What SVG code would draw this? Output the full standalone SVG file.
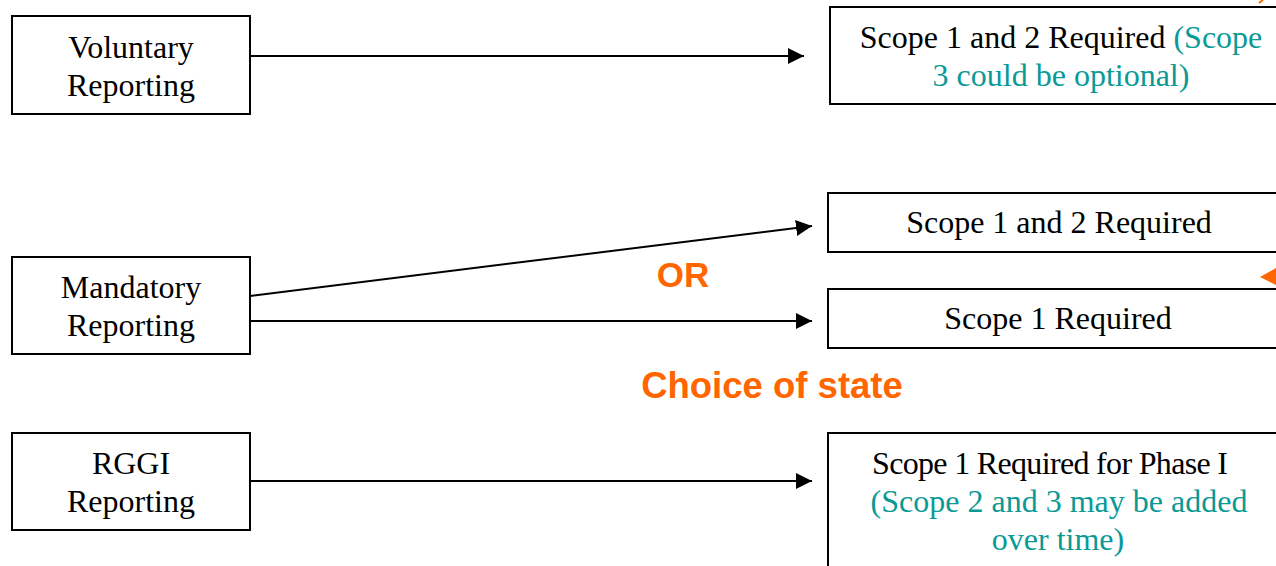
<svg xmlns="http://www.w3.org/2000/svg" width="1276" height="566" viewBox="0 0 1276 566">
<style>
.box{fill:#fff;stroke:#000;stroke-width:2}
.t{font-family:"Liberation Serif","Times New Roman",serif;font-size:32px;fill:#000;text-anchor:middle}
.teal{fill:#0a9a96}
.or{font-family:"Liberation Sans",Arial,sans-serif;font-weight:bold;fill:#ff6600;text-anchor:middle}
.c{stroke:#000;stroke-width:2;fill:none;marker-end:url(#ah)}
</style>
<defs>
<marker id="ah" viewBox="0 0 16 16" refX="16" refY="8" markerWidth="16" markerHeight="16" markerUnits="userSpaceOnUse" orient="auto">
<path d="M0,0 L16,8 L0,16 Z" fill="#000"/>
</marker>
</defs>
<rect width="1276" height="566" fill="#fff"/>
<g id="connectors">
<line class="c" x1="250" y1="56" x2="804" y2="56"/>
<line class="c" x1="250" y1="296" x2="812" y2="226"/>
<line class="c" x1="250" y1="321" x2="812" y2="321"/>
<line class="c" x1="250" y1="481" x2="812" y2="481"/>
</g>
<g id="voluntary">
<rect class="box" x="12" y="16" width="238" height="98"/>
<text class="t" x="131" y="58">Voluntary</text>
<text class="t" x="131" y="96">Reporting</text>
</g>
<g id="mandatory">
<rect class="box" x="12" y="257" width="238" height="97"/>
<text class="t" x="131" y="298">Mandatory</text>
<text class="t" x="131" y="336">Reporting</text>
</g>
<g id="rggi">
<rect class="box" x="12" y="433" width="238" height="97"/>
<text class="t" x="131" y="474">RGGI</text>
<text class="t" x="131" y="512">Reporting</text>
</g>
<g id="scope12opt">
<rect class="box" x="830" y="7" width="470" height="97"/>
<text class="t" x="1061" y="48">Scope 1 and 2 Required <tspan class="teal">(Scope</tspan></text>
<text class="t teal" x="1061" y="86">3 could be optional)</text>
</g>
<g id="scope12">
<rect class="box" x="828" y="193" width="470" height="59"/>
<text class="t" x="1059" y="233">Scope 1 and 2 Required</text>
</g>
<g id="scope1">
<rect class="box" x="828" y="289" width="470" height="59"/>
<text class="t" x="1058" y="329">Scope 1 Required</text>
</g>
<g id="rggiscope">
<rect class="box" x="828" y="433" width="470" height="160"/>
<text class="t" x="1050" y="474" textLength="356" lengthAdjust="spacing">Scope 1 Required for Phase I</text>
<text class="t teal" x="1059" y="512">(Scope 2 and 3 may be added</text>
<text class="t teal" x="1058" y="550">over time)</text>
</g>
<g id="labels">
<text class="or" x="683" y="287" font-size="35">OR</text>
<text class="or" x="772" y="398" font-size="36.5">Choice of state</text>
</g>
<g id="orange-marks">
<line x1="1259" y1="3" x2="1263" y2="0" stroke="#ff6600" stroke-width="2"/>
<polygon points="1260,277 1276,268 1276,285" fill="#ff6600"/>
</g>
</svg>
